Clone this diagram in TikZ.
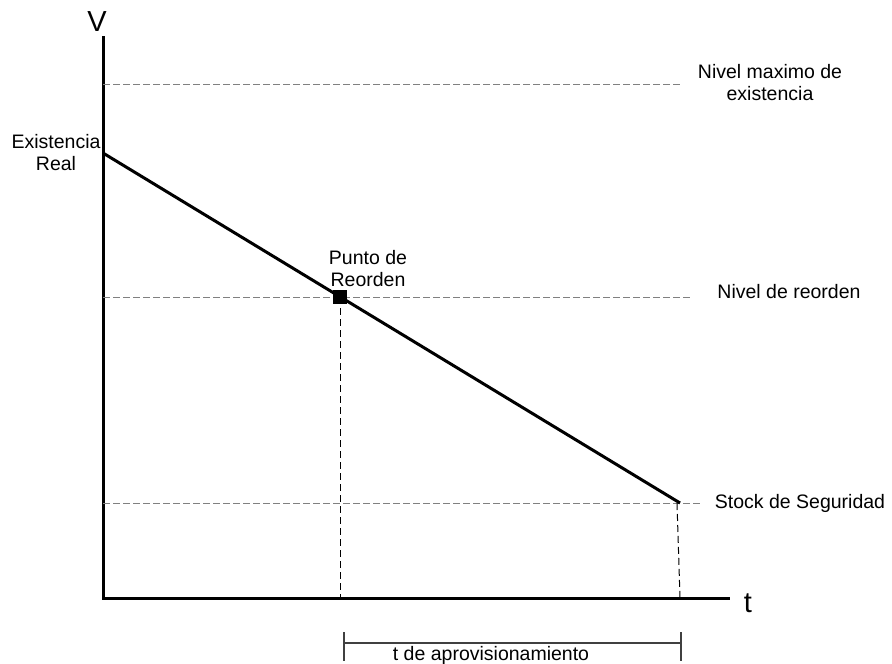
\documentclass[tikz,border=0pt]{standalone}
\usepackage{fontspec}
\setmainfont{Liberation Sans}
\begin{document}
\begin{tikzpicture}[x=1pt,y=-1pt,
  lbl/.style={font=\fontsize{19.5}{22}\selectfont, align=center, inner sep=0pt},
  axislbl/.style={font=\fontsize{29}{30}\selectfont, inner sep=0pt},
  axisline/.style={line width=3pt},
  guide/.style={draw=gray, line width=1pt, dash pattern=on 6.5pt off 3.5pt},
  drop/.style={draw=black, line width=1pt, dash pattern=on 7pt off 4pt},
  bracket/.style={draw=black!75, line width=1.2pt}]
\useasboundingbox (0,0) rectangle (892,664);

% axes
\coordinate (O) at (103,598);
\coordinate (ytop) at (103,36);
\coordinate (xend) at (730,598);
\draw[axisline] (ytop) -- (O) -- (xend);
\node[axislbl] (V) at (97,22) {V};
\node[axislbl] (t) at (748,603) {t};

% horizontal guide levels
\coordinate (maxL) at (103,84);   \coordinate (maxR) at (680,84);
\coordinate (reoL) at (103,297);  \coordinate (reoR) at (690,297);
\coordinate (stkL) at (103,503);  \coordinate (stkR) at (703,503);
\draw[guide] (maxL) -- (maxR);
\draw[guide] (reoL) -- (reoR);
\draw[guide] (stkL) -- (stkR);

% consumption line
\coordinate (start) at (103,153);
\coordinate (stop) at (680,503);
\draw[line width=3pt] (start) -- (stop);

% reorder point
\node[fill=black, minimum size=14pt, inner sep=0pt] (rp) at (340,297) {};
\coordinate (rpfoot) at (340,598);
\coordinate (stopfoot) at (680,598);
\draw[drop] (rp.center) -- (rpfoot);
\draw[drop] (677,503) -- (stopfoot);

% lead-time bracket
\coordinate (bl) at (344,643);
\coordinate (br) at (681,643);
\draw[bracket] (bl) -- (br);
\draw[bracket] (344,632) -- (344,661);
\draw[bracket] (681,632) -- (681,661);

% labels
\node[lbl] (exist) at (56,153) {Existencia\\Real};
\node[lbl] (punto) at (368,269) {Punto de\\Reorden};
\node[lbl] (nmax) at (770,83) {Nivel maximo de\\existencia};
\node[lbl] (nreo) at (789,292) {Nivel de reorden};
\node[lbl] (stock) at (800,503) {Stock de Seguridad};
\node[lbl] (lead) at (491,655) {t de aprovisionamiento};
\end{tikzpicture}
\end{document}
